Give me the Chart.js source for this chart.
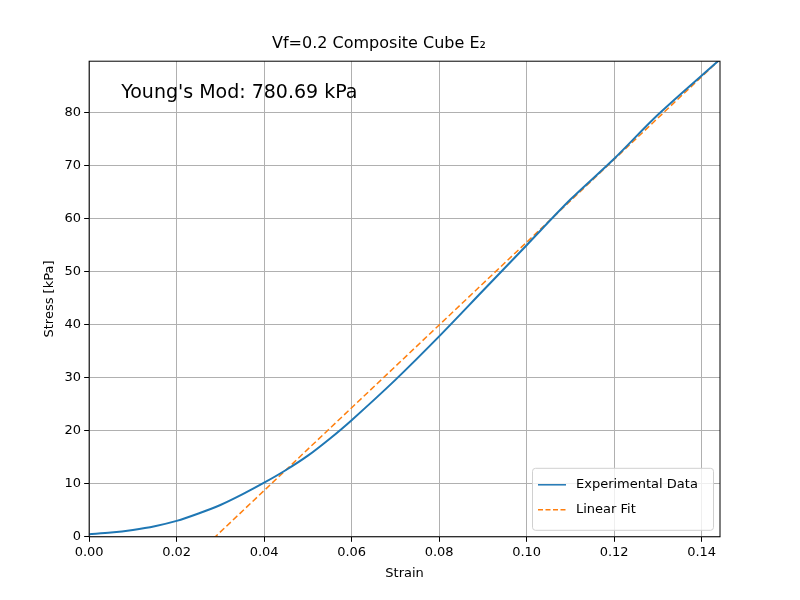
<!DOCTYPE html>
<html>
<head>
<script src="https://cdn.jsdelivr.net/npm/chart.js@4"></script>
<style>body{margin:0;background:#fff}</style>
</head>
<body>
<canvas id="myChart" width="800" height="600"></canvas>
<script>
var strain = [0, 0.005, 0.01, 0.015, 0.02, 0.025, 0.03, 0.035, 0.04, 0.045, 0.05, 0.055, 0.06, 0.07, 0.08, 0.09, 0.1, 0.11, 0.12, 0.13, 0.144];
var stress = [0.5, 0.8, 1.3, 2.0, 3.0, 4.4, 6.0, 8.0, 10.2, 12.6, 15.3, 18.5, 22.0, 29.6, 37.8, 46.4, 55.0, 63.6, 71.3, 79.6, 89.9];
var fitX = [0, 0.144];
var fitY = [-22.5, 89.9];
var xTicks = [0, 0.02, 0.04, 0.06, 0.08, 0.1, 0.12, 0.14];
var yTicks = [0, 10, 20, 30, 40, 50, 60, 70, 80];
var modulus = "780.69";

function pts(xs, ys) {
  var out = [];
  for (var i = 0; i < xs.length; i++) out.push({x: xs[i], y: ys[i]});
  return out;
}

var extras = {
  id: 'extras',
  afterDraw: function(chart) {
    var c = chart.ctx, a = chart.chartArea;
    c.save();
    c.fillStyle = '#000';
    c.font = '19px "DejaVu Sans"';
    c.textBaseline = 'middle';
    c.fillText("Young's Mod: " + modulus + " kPa", a.left + 32, a.top + 32);
    var w = 181, h = 62, x = a.right - w - 7, y = a.bottom - h - 7;
    c.fillStyle = 'rgba(255,255,255,0.8)';
    c.strokeStyle = '#d0d0d0';
    c.lineWidth = 1;
    c.beginPath();
    c.roundRect(x + 0.5, y + 0.5, w, h, 3);
    c.fill(); c.stroke();
    c.font = '13px "DejaVu Sans"';
    c.lineWidth = 1.5;
    c.strokeStyle = '#1f77b4';
    c.beginPath(); c.moveTo(x + 6, y + 17); c.lineTo(x + 34, y + 17); c.stroke();
    c.strokeStyle = '#ff7f0e';
    c.setLineDash([5, 2.5]);
    c.beginPath(); c.moveTo(x + 6, y + 42); c.lineTo(x + 34, y + 42); c.stroke();
    c.setLineDash([]);
    c.fillStyle = '#000';
    c.fillText('Experimental Data', x + 44, y + 17);
    c.fillText('Linear Fit', x + 44, y + 42);
    c.strokeStyle = '#000';
    c.lineWidth = 1;
    c.strokeRect(a.left, a.top, a.right - a.left, a.bottom - a.top);
    c.restore();
  }
};

var ctx = document.getElementById('myChart');
new Chart(ctx, {
  type: 'scatter',
  data: {
    datasets: [
      {label: 'Experimental Data', data: pts(strain, stress), showLine: true,
       borderColor: '#1f77b4', borderWidth: 2, pointRadius: 0, tension: 0.3, fill: false},
      {label: 'Linear Fit', data: pts(fitX, fitY), showLine: true,
       borderColor: '#ff7f0e', borderWidth: 1.5, borderDash: [6, 3], pointRadius: 0, fill: false}
    ]
  },
  options: {
    responsive: false,
    animation: false,
    devicePixelRatio: 1,
    layout: {padding: {left: 38, right: 80, top: 34, bottom: 15}},
    plugins: {
      legend: {display: false},
      tooltip: {enabled: false},
      title: {display: true, text: 'Vf=0.2 Composite Cube E\u2082', color: '#000',
              font: {family: 'DejaVu Sans', size: 16, weight: 'normal'}, padding: {top: 0, bottom: 8}}
    },
    scales: {
      x: {type: 'linear', min: 0, max: 0.1442,
          afterBuildTicks: function(s) { s.ticks = xTicks.map(function(v) { return {value: v}; }); },
          title: {display: true, text: 'Strain', color: '#000', font: {family: 'DejaVu Sans', size: 13}, padding: {top: 2}},
          ticks: {color: '#000', font: {family: 'DejaVu Sans', size: 13},
                  callback: function(v) { return v.toFixed(2); }},
          grid: {color: '#b0b0b0', tickColor: '#000', tickLength: 5}},
      y: {min: 0, max: 89.7,
          afterBuildTicks: function(s) { s.ticks = yTicks.map(function(v) { return {value: v}; }); },
          title: {display: true, text: 'Stress [kPa]', color: '#000', font: {family: 'DejaVu Sans', size: 13}},
          ticks: {color: '#000', font: {family: 'DejaVu Sans', size: 13}},
          grid: {color: '#b0b0b0', tickColor: '#000', tickLength: 5}}
    }
  },
  plugins: [extras]
});
</script>
</body>
</html>
